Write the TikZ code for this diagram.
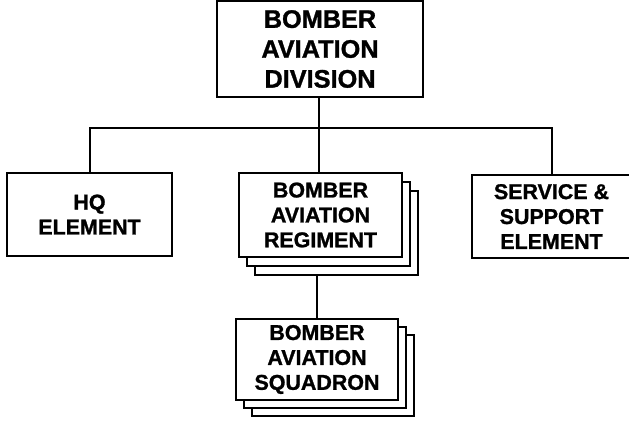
\documentclass[tikz,border=0pt]{standalone}
\usepackage{fontspec}
\setmainfont{Liberation Sans}[BoldFeatures={FakeBold=1.2}]
\begin{document}
\begin{tikzpicture}[x=1bp,y=-1bp,
  box/.style={draw, line width=2bp, fill=white, align=center, inner sep=0pt,
    font=\bfseries\fontsize{21.5}{25}\selectfont},
  backbox/.style={draw, line width=2bp, fill=white, inner sep=0pt},
  link/.style={draw, line width=2bp}]
\useasboundingbox (0,0) rectangle (629,424);
\clip (0,0) rectangle (629,424);
% top
\node[box, minimum width=206bp, minimum height=96bp,
  font=\bfseries\fontsize{25.4}{30}\selectfont] (div) at (320,49) {BOMBER\\AVIATION\\DIVISION};
% HQ
\node[box, minimum width=165bp, minimum height=83bp] (hq) at (89.5,214.5) {HQ\\ELEMENT};
% service
\node[box, minimum width=159bp, minimum height=83bp] (svc) at (551.5,216.5) {SERVICE \&\\SUPPORT\\ELEMENT};
% regiment stack
\node[backbox, minimum width=163bp, minimum height=84bp] (reg3) at (336.5,233) {};
\node[backbox, minimum width=163bp, minimum height=84bp] (reg2) at (328.5,224) {};
\node[box, minimum width=163bp, minimum height=84bp] (reg) at (320.5,215) {BOMBER\\AVIATION\\REGIMENT};
% squadron stack
\node[backbox, minimum width=162bp, minimum height=81bp] (sq3) at (333,375.5) {};
\node[backbox, minimum width=162bp, minimum height=81bp] (sq2) at (325,367.5) {};
\node[box, minimum width=162bp, minimum height=81bp] (sq) at (317,359.5) {BOMBER\\AVIATION\\SQUADRON};
% connectors
\coordinate (bus) at (319,128);
\draw[link] (div.south -| bus) -- (bus);
\draw[link] (hq.north) |- (bus) -| (svc.north);
\draw[link] (bus) -- (bus |- reg.north);
\draw[link] (sq.north |- reg3.south) -- (sq.north);
\end{tikzpicture}
\end{document}
